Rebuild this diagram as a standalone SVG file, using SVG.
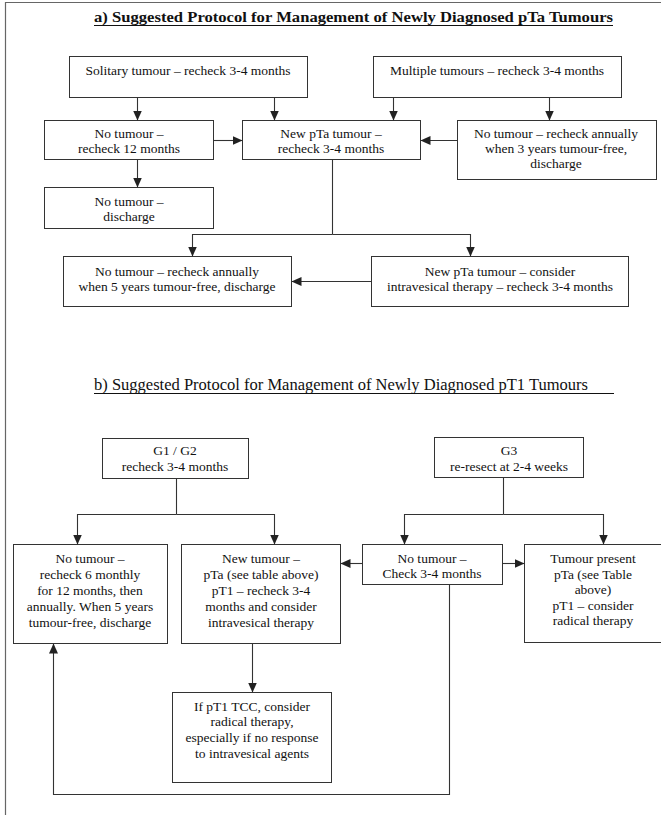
<svg xmlns="http://www.w3.org/2000/svg" width="661" height="815" viewBox="0 0 661 815" font-family="'Liberation Serif', 'Times New Roman', Times, serif">
<style>
  .box { fill: #ffffff; stroke: #333333; stroke-width: 1; }
  .t { font-family: 'Liberation Serif', 'Times New Roman', Times, serif; font-size: 13.5px; fill: #111111; text-anchor: middle; }
  .ttl { font-family: 'Liberation Serif', 'Times New Roman', Times, serif; fill: #111111; }
  .ln { fill: none; stroke: #333333; stroke-width: 1.1; }
  .arr { fill: none; stroke: #333333; stroke-width: 1.1; marker-end: url(#ah); }
  .frame { fill: none; stroke: #666666; stroke-width: 1.2; }
</style>
<defs>
  <marker id="ah" viewBox="0 0 10 9" refX="10" refY="4.5" markerWidth="10" markerHeight="9" markerUnits="userSpaceOnUse" orient="auto">
    <path d="M0,0 L10,4.5 L0,9 z" fill="#222222"/>
  </marker>
</defs>
<rect width="661" height="815" fill="#ffffff"/>
<path class="frame" d="M5.5,815 V2.5 H661"/>

<g id="title-a">
  <text class="ttl" x="94" y="22" font-size="15.5" font-weight="bold" textLength="519" lengthAdjust="spacingAndGlyphs">a) Suggested Protocol for Management of Newly Diagnosed pTa Tumours</text>
  <line x1="94" y1="25.5" x2="613" y2="25.5" stroke="#111111" stroke-width="1.2"/>
</g>

<g id="solitary">
  <rect class="box" x="69.5" y="56.5" width="238" height="41"/>
  <text class="t" x="188" y="75">Solitary tumour – recheck 3-4 months</text>
</g>
<g id="multiple">
  <rect class="box" x="373.5" y="56.5" width="248" height="41"/>
  <text class="t" x="497" y="75">Multiple tumours – recheck 3-4 months</text>
</g>
<g id="no-tumour-12">
  <rect class="box" x="44.5" y="120.5" width="169" height="39"/>
  <text class="t" x="129" y="138">No tumour –</text>
  <text class="t" x="129" y="153">recheck 12 months</text>
</g>
<g id="new-pta">
  <rect class="box" x="242.5" y="120.5" width="178" height="39"/>
  <text class="t" x="331" y="138">New pTa tumour –</text>
  <text class="t" x="331" y="153">recheck 3-4 months</text>
</g>
<g id="no-tumour-3y">
  <rect class="box" x="457.5" y="120.5" width="199" height="59"/>
  <text class="t" x="556" y="138">No tumour – recheck annually</text>
  <text class="t" x="556" y="153">when 3 years tumour-free,</text>
  <text class="t" x="556" y="168">discharge</text>
</g>
<g id="discharge">
  <rect class="box" x="44.5" y="187.5" width="169" height="41"/>
  <text class="t" x="129" y="206">No tumour –</text>
  <text class="t" x="129" y="221">discharge</text>
</g>
<g id="no-tumour-5y">
  <rect class="box" x="63.5" y="256.5" width="228" height="50"/>
  <text class="t" x="177" y="276">No tumour – recheck annually</text>
  <text class="t" x="177" y="291">when 5 years tumour-free, discharge</text>
</g>
<g id="new-pta-intravesical">
  <rect class="box" x="371.5" y="256.5" width="257" height="50"/>
  <text class="t" x="500" y="276">New pTa tumour – consider</text>
  <text class="t" x="500" y="291">intravesical therapy – recheck 3-4 months</text>
</g>

<g id="title-b">
  <text class="ttl" x="94" y="390" font-size="16.2" textLength="494" lengthAdjust="spacingAndGlyphs">b) Suggested Protocol for Management of Newly Diagnosed pT1 Tumours</text>
  <line x1="94" y1="393.5" x2="614" y2="393.5" stroke="#111111" stroke-width="1"/>
</g>

<g id="g1g2">
  <rect class="box" x="102.5" y="438.5" width="146" height="40"/>
  <text class="t" x="175" y="455">G1 / G2</text>
  <text class="t" x="175" y="471">recheck 3-4 months</text>
</g>
<g id="g3">
  <rect class="box" x="434.5" y="437.5" width="149" height="40"/>
  <text class="t" x="509" y="455">G3</text>
  <text class="t" x="509" y="471">re-resect at 2-4 weeks</text>
</g>
<g id="no-tumour-6m">
  <rect class="box" x="13.5" y="544.5" width="154" height="99"/>
  <text class="t" x="90" y="563">No tumour –</text>
  <text class="t" x="90" y="579">recheck 6 monthly</text>
  <text class="t" x="90" y="595">for 12 months, then</text>
  <text class="t" x="90" y="611">annually. When 5 years</text>
  <text class="t" x="90" y="627">tumour-free, discharge</text>
</g>
<g id="new-tumour">
  <rect class="box" x="181.5" y="544.5" width="159" height="99"/>
  <text class="t" x="261" y="563">New tumour –</text>
  <text class="t" x="261" y="579">pTa (see table above)</text>
  <text class="t" x="261" y="595">pT1 – recheck 3-4</text>
  <text class="t" x="261" y="611">months and consider</text>
  <text class="t" x="261" y="627">intravesical therapy</text>
</g>
<g id="no-tumour-check">
  <rect class="box" x="362.5" y="544.5" width="140" height="40"/>
  <text class="t" x="432" y="563">No tumour –</text>
  <text class="t" x="432" y="578">Check 3-4 months</text>
</g>
<g id="tumour-present">
  <rect class="box" x="524.5" y="544.5" width="142" height="98"/>
  <text class="t" x="593" y="563">Tumour present</text>
  <text class="t" x="593" y="579">pTa (see Table</text>
  <text class="t" x="593" y="594">above)</text>
  <text class="t" x="593" y="610">pT1 – consider</text>
  <text class="t" x="593" y="625">radical therapy</text>
</g>
<g id="if-pt1">
  <rect class="box" x="172.5" y="692.5" width="159" height="90"/>
  <text class="t" x="252" y="711">If pT1 TCC, consider</text>
  <text class="t" x="252" y="726">radical therapy,</text>
  <text class="t" x="252" y="742">especially if no response</text>
  <text class="t" x="252" y="758">to intravesical agents</text>
</g>

<g id="connectors">
  <line class="arr" x1="137.5" y1="97.5" x2="137.5" y2="120.5"/>
  <line class="arr" x1="274.5" y1="97.5" x2="274.5" y2="120.5"/>
  <line class="arr" x1="393.5" y1="97.5" x2="393.5" y2="120.5"/>
  <line class="arr" x1="549.5" y1="97.5" x2="549.5" y2="120.5"/>
  <line class="arr" x1="213.5" y1="140.5" x2="242.5" y2="140.5"/>
  <line class="arr" x1="457.5" y1="140.5" x2="420.5" y2="140.5"/>
  <line class="arr" x1="137.5" y1="159.5" x2="137.5" y2="187.5"/>
  <line class="ln" x1="332.5" y1="159.5" x2="332.5" y2="234.5"/>
  <path class="arr" d="M332.5,234.5 H192.5 V256.5"/>
  <path class="arr" d="M332.5,234.5 H470.5 V256.5"/>
  <line class="arr" x1="371.5" y1="281.5" x2="291.5" y2="281.5"/>

  <line class="ln" x1="176.5" y1="478.5" x2="176.5" y2="514.5"/>
  <path class="arr" d="M176.5,514.5 H77.5 V544.5"/>
  <path class="arr" d="M176.5,514.5 H274.5 V544.5"/>
  <line class="ln" x1="503.5" y1="477.5" x2="503.5" y2="514.5"/>
  <path class="arr" d="M503.5,514.5 H404.5 V544.5"/>
  <path class="arr" d="M503.5,514.5 H603.5 V544.5"/>
  <line class="arr" x1="362.5" y1="563.5" x2="340.5" y2="563.5"/>
  <line class="arr" x1="502.5" y1="563.5" x2="524.5" y2="563.5"/>
  <line class="arr" x1="252.5" y1="643.5" x2="252.5" y2="692.5"/>
  <path class="arr" d="M449.5,584.5 V794.5 H53.5 V643.5"/>
</g>
</svg>
